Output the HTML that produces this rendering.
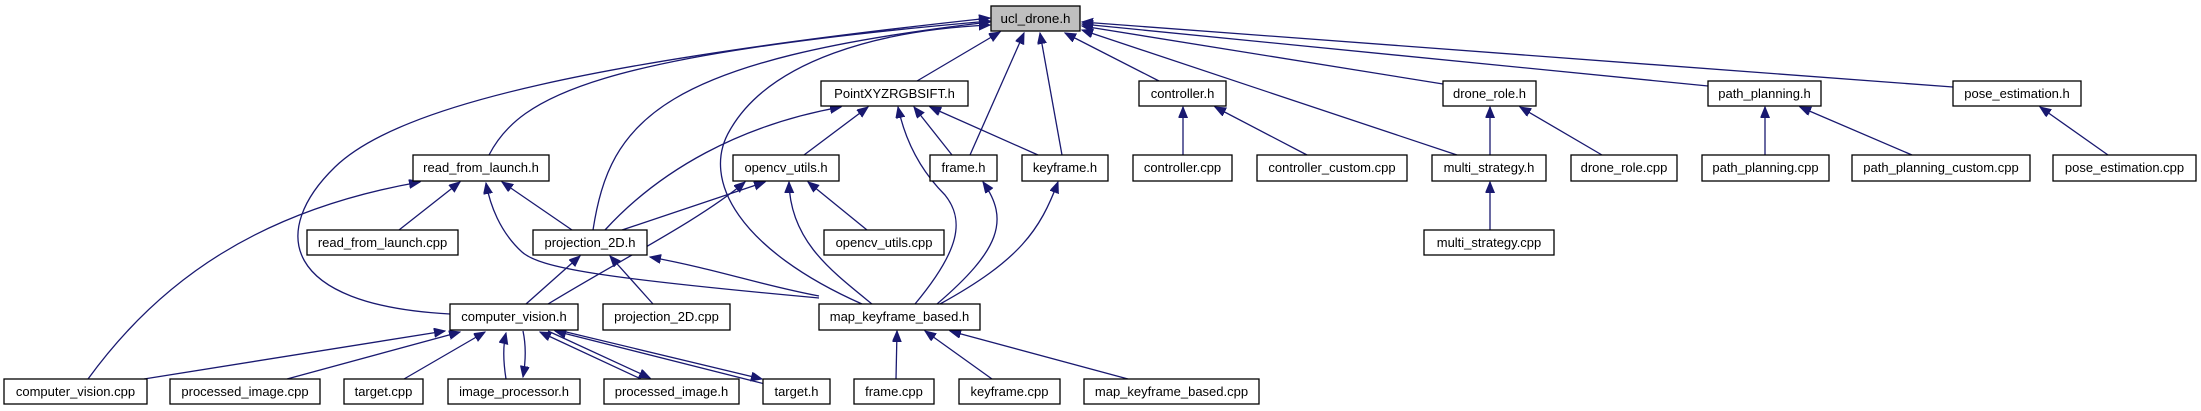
<!DOCTYPE html>
<html><head><meta charset="utf-8"><style>
html,body{margin:0;padding:0;background:#fff;}
svg{display:block;}
text{font-family:"Liberation Sans",sans-serif;font-size:13px;fill:#000;}
.e{fill:none;stroke:#191970;stroke-width:1.3;}
.n{fill:#fff;stroke:#000;stroke-width:1.3;}
</style></head><body>
<svg width="2201" height="411" viewBox="0 0 2201 411" xmlns="http://www.w3.org/2000/svg">
<defs><marker id="a" markerUnits="userSpaceOnUse" markerWidth="12" markerHeight="10" refX="11" refY="4.5" orient="auto"><path d="M0,0 L11,4.5 L0,9 z" fill="#191970" stroke="#191970"/></marker></defs>
<g class="e" marker-end="url(#a)">
<path d="M450,314 C280,305 270,230 335,167 S600,60 990,18"/>
<path d="M489,155 C520,95 600,55 990,21"/>
<path d="M593,230 C610,120 660,60 990,22"/>
<path d="M862,304 C740,250 700,180 730,130 C770,60 880,30 990,25"/>
<path d="M917,81 L1000,32"/>
<path d="M970,155 L1024,33"/>
<path d="M1062,155 L1040,33"/>
<path d="M1159,81 L1065,33"/>
<path d="M1457,155 L1082,30"/>
<path d="M1443,84 L1082,26"/>
<path d="M1708,86 L1082,24"/>
<path d="M1953,87 L1082,22"/>
<path d="M399,230 L460,182"/>
<path d="M572,230 L502,182"/>
<path d="M88,379 C160,280 260,210 420,182"/>
<path d="M819,298 C600,278 540,268 522,252 C500,232 490,205 486,183"/>
<path d="M605,230 C660,170 740,125 841,107"/>
<path d="M804,155 L868,107"/>
<path d="M915,304 C960,250 965,220 945,195 C920,170 905,140 898,107"/>
<path d="M952,155 L914,107"/>
<path d="M1038,155 L930,107"/>
<path d="M622,230 L765,182"/>
<path d="M872,304 C830,270 790,240 789,182"/>
<path d="M867,230 L808,182"/>
<path d="M548,304 C620,260 700,220 745,182"/>
<path d="M937,304 C1000,250 1010,220 983,182"/>
<path d="M940,304 C1020,260 1040,230 1058,182"/>
<path d="M526,304 L580,256"/>
<path d="M653,304 L610,256"/>
<path d="M819,296 C760,285 720,270 650,257"/>
<path d="M144,379 L445,331"/>
<path d="M287,379 L460,332"/>
<path d="M404,379 L485,332"/>
<path d="M506,379 C503,360 503,345 506,333"/>
<path d="M523,331 C526,345 526,360 523,377"/>
<path d="M641,379 L540,332"/>
<path d="M548,331 L650,378"/>
<path d="M765,384 L555,331"/>
<path d="M562,331 L762,379"/>
<path d="M896,379 L897,331"/>
<path d="M992,379 L925,331"/>
<path d="M1128,379 L950,331"/>
<path d="M1183,155 L1183,107"/>
<path d="M1307,155 L1215,107"/>
<path d="M1490,155 L1490,107"/>
<path d="M1602,155 L1520,107"/>
<path d="M1490,230 L1490,182"/>
<path d="M1765,155 L1765,107"/>
<path d="M1912,155 L1800,107"/>
<path d="M2108,155 L2040,107"/>
</g>
<g>
<rect x="991" y="6" width="89" height="25" fill="#bfbfbf" stroke="#000" stroke-width="1.3"/>
<text x="1035.5" y="23" text-anchor="middle" textLength="70" lengthAdjust="spacingAndGlyphs">ucl_drone.h</text>
</g>
<g id="nodes"></g>
<g class="n">
<rect x="821" y="81" width="147" height="25"/><rect x="1139" y="81" width="87" height="25"/><rect x="1443" y="81" width="93" height="25"/><rect x="1708" y="81" width="113" height="25"/><rect x="1953" y="81" width="128" height="25"/>
<rect x="413" y="155" width="136" height="26"/><rect x="733" y="155" width="106" height="26"/><rect x="930" y="155" width="67" height="26"/><rect x="1022" y="155" width="86" height="26"/><rect x="1133" y="155" width="99" height="26"/><rect x="1257" y="155" width="150" height="26"/><rect x="1432" y="155" width="114" height="26"/><rect x="1571" y="155" width="106" height="26"/><rect x="1702" y="155" width="127" height="26"/><rect x="1852" y="155" width="178" height="26"/><rect x="2053" y="155" width="143" height="26"/>
<rect x="307" y="230" width="151" height="25"/><rect x="533" y="230" width="114" height="25"/><rect x="824" y="230" width="120" height="25"/><rect x="1424" y="230" width="130" height="25"/>
<rect x="450" y="304" width="128" height="26"/><rect x="603" y="304" width="127" height="26"/><rect x="819" y="304" width="161" height="26"/>
<rect x="4" y="379" width="143" height="25"/><rect x="170" y="379" width="150" height="25"/><rect x="344" y="379" width="79" height="25"/><rect x="448" y="379" width="132" height="25"/><rect x="604" y="379" width="135" height="25"/><rect x="763" y="379" width="67" height="25"/><rect x="854" y="379" width="80" height="25"/><rect x="959" y="379" width="101" height="25"/><rect x="1084" y="379" width="175" height="25"/>
</g>
<g text-anchor="middle">
<text x="894.5" y="98">PointXYZRGBSIFT.h</text><text x="1182.5" y="98">controller.h</text><text x="1489.5" y="98">drone_role.h</text><text x="1764.5" y="98">path_planning.h</text><text x="2017" y="98">pose_estimation.h</text>
<text x="481" y="172">read_from_launch.h</text><text x="786" y="172">opencv_utils.h</text><text x="963.5" y="172">frame.h</text><text x="1065" y="172">keyframe.h</text><text x="1182.5" y="172">controller.cpp</text><text x="1332" y="172">controller_custom.cpp</text><text x="1489" y="172">multi_strategy.h</text><text x="1624" y="172">drone_role.cpp</text><text x="1765.5" y="172">path_planning.cpp</text><text x="1941" y="172">path_planning_custom.cpp</text><text x="2124.5" y="172">pose_estimation.cpp</text>
<text x="382.5" y="247">read_from_launch.cpp</text><text x="590" y="247">projection_2D.h</text><text x="884" y="247">opencv_utils.cpp</text><text x="1489" y="247">multi_strategy.cpp</text>
<text x="514" y="321">computer_vision.h</text><text x="666.5" y="321">projection_2D.cpp</text><text x="899.5" y="321">map_keyframe_based.h</text>
<text x="75.5" y="396">computer_vision.cpp</text><text x="245" y="396">processed_image.cpp</text><text x="383.5" y="396">target.cpp</text><text x="514" y="396">image_processor.h</text><text x="671.5" y="396">processed_image.h</text><text x="796.5" y="396">target.h</text><text x="894" y="396">frame.cpp</text><text x="1009.5" y="396">keyframe.cpp</text><text x="1171.5" y="396">map_keyframe_based.cpp</text>
</g>
</svg>
</body></html>
